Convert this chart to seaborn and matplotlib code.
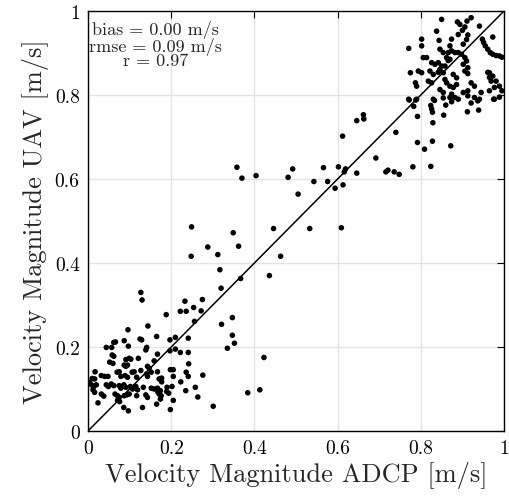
import matplotlib
matplotlib.use("Agg")
import matplotlib.pyplot as plt
import seaborn as sns
import pandas as pd

# ---- data (ADCP vs UAV velocity magnitude, m/s) ----
low_x = [0.127,0.130,0.233,0.254,0.222,0.236,0.188,0.256,0.144,0.096,0.165,0.125,0.129,0.062,0.066,
         0.087,0.197,0.210,0.044,0.057,0.097,0.141,0.139,0.197,0.210,0.222,0.167,0.058,0.062,0.099,
         0.091,0.103,0.121,0.159,0.052,0.060,0.242,0.087,0.091,0.095,0.143,0.147,0.198,0.205,0.017,
         0.070,0.075,0.106,0.111,0.127,0.167,0.236,0.032,0.040,0.048,0.079,0.089,0.095,0.141,0.143,
         0.117,0.205,0.010,0.016,0.171,0.177,0.008,0.014,0.020,0.044,0.049,0.056,0.062,0.075,0.079,
         0.086,0.091,0.102,0.107,0.115,0.119,0.133,0.152,0.159,0.167,0.190,0.202,0.258,0.016,0.032,
         0.038,0.065,0.071,0.075,0.087,0.093,0.099,0.117,0.143,0.139,0.171,0.176,0.189,0.194,0.205,
         0.165,0.024,0.071,0.076,0.086,0.097,0.131,0.198,0.241,0.241,0.152,0.241,0.177,0.223,0.168,
         0.174,0.235,0.174,0.004,0.012]
low_y = [0.330,0.312,0.309,0.294,0.285,0.285,0.277,0.261,0.250,0.241,0.225,0.219,0.217,0.211,0.212,
         0.215,0.217,0.223,0.199,0.199,0.202,0.199,0.193,0.191,0.195,0.187,0.183,0.181,0.178,0.173,
         0.170,0.171,0.173,0.167,0.164,0.161,0.160,0.157,0.154,0.157,0.154,0.149,0.146,0.146,0.141,
         0.140,0.141,0.140,0.141,0.144,0.141,0.140,0.132,0.130,0.130,0.130,0.132,0.128,0.136,0.130,
         0.128,0.130,0.125,0.124,0.124,0.126,0.110,0.106,0.110,0.110,0.106,0.112,0.108,0.108,0.102,
         0.110,0.104,0.106,0.100,0.106,0.098,0.104,0.102,0.100,0.102,0.104,0.106,0.104,0.092,0.088,
         0.083,0.088,0.084,0.080,0.084,0.086,0.088,0.084,0.080,0.086,0.088,0.084,0.094,0.090,0.073,
         0.064,0.067,0.073,0.070,0.056,0.048,0.056,0.051,0.221,0.187,0.140,0.130,0.117,0.117,0.093,
         0.096,0.096,0.076,0.116,0.098]

mid_x = [0.612,0.358,0.370,0.404,0.481,0.492,0.543,0.566,0.576,0.602,0.619,0.616,0.594,0.613,0.646,
         0.505,0.249,0.349,0.446,0.533,0.609,0.288,0.362,0.248,0.312,0.463,0.317,0.367,0.436,0.320,
         0.275,0.272,0.321,0.347,0.347,0.352,0.335,0.423,0.276,0.264,0.301,0.384,0.413]
mid_y = [0.702,0.628,0.602,0.608,0.604,0.624,0.594,0.627,0.594,0.629,0.624,0.617,0.578,0.586,0.614,
         0.564,0.486,0.472,0.482,0.482,0.484,0.438,0.440,0.416,0.420,0.416,0.384,0.363,0.370,0.340,
         0.313,0.286,0.254,0.270,0.228,0.209,0.197,0.175,0.133,0.081,0.059,0.091,0.098]

high_x = [0.772,0.788,0.783,0.792,0.740,0.792,0.809,0.828,0.829,0.824,0.826,0.828,0.833,0.855,0.860,
          0.646,0.662,0.663,0.692,0.716,0.721,0.736,0.748,0.781,0.824,0.872,0.912,0.939,0.921,0.975,
          0.850,0.888,0.894,0.921,0.911,0.838,0.906,0.900,0.890,0.913,0.941,0.874,0.802,0.844,0.973,
          0.771,0.802,0.870,0.910,0.902,0.948,0.951,0.955,0.961,0.967,0.973,0.981,0.989,0.995,0.846,
          0.854,0.866,0.874,0.882,0.862,0.870,0.890,0.898,0.806,0.814,0.826,0.834,0.842,0.850,0.846,
          0.854,0.906,0.910,0.902,0.913,0.906,0.775,0.794,0.802,0.822,0.830,0.878,0.886,0.965,0.973,
          0.969,0.787,0.790,0.818,0.826,0.858,0.862,0.870,0.878,0.886,0.921,0.929,0.945,0.981,0.989,
          0.995,0.902,0.913,0.846,0.854,0.965,0.771,0.790,0.830,0.854,0.870,0.874,0.941,0.977,0.989,
          0.858,0.866,0.842,0.913,0.961,0.965,0.977,0.882,0.890,0.913,0.929,0.874,0.937]
high_y = [0.788,0.788,0.773,0.749,0.711,0.687,0.671,0.690,0.734,0.775,0.767,0.759,0.787,0.752,0.776,
          0.739,0.753,0.743,0.650,0.617,0.621,0.617,0.611,0.629,0.630,0.679,0.760,0.764,0.781,0.790,
          0.980,0.974,0.968,0.984,0.976,0.952,0.962,0.954,0.944,0.943,0.964,0.933,0.933,0.930,0.938,
          0.911,0.917,0.917,0.932,0.921,0.933,0.925,0.917,0.909,0.901,0.897,0.894,0.893,0.890,0.909,
          0.901,0.901,0.905,0.901,0.889,0.885,0.901,0.897,0.889,0.889,0.877,0.873,0.877,0.869,0.861,
          0.853,0.889,0.881,0.873,0.865,0.857,0.853,0.857,0.853,0.857,0.849,0.849,0.841,0.853,0.845,
          0.833,0.829,0.821,0.833,0.829,0.837,0.829,0.821,0.818,0.825,0.829,0.821,0.806,0.833,0.821,
          0.810,0.806,0.810,0.813,0.806,0.810,0.790,0.790,0.790,0.793,0.794,0.802,0.790,0.790,0.795,
          0.869,0.882,0.854,0.851,0.854,0.842,0.818,0.794,0.790,0.798,0.794,0.784,0.786]

ticks = [0, 0.2, 0.4, 0.6, 0.8, 1]
tick_labels = ["0", "0.2", "0.4", "0.6", "0.8", "1"]
stats_text = "bias = 0.00 m/s\nrmse = 0.09 m/s\nr = 0.97"

df = pd.DataFrame({"adcp": low_x + mid_x + high_x, "uav": low_y + mid_y + high_y})

sns.set_style("white")
plt.rcParams["font.family"] = ["cmr10", "DejaVu Serif"]
plt.rcParams["axes.formatter.use_mathtext"] = True

fig = plt.figure(figsize=(5.09, 5.02), dpi=100)
ax = fig.add_axes([88/509, 1 - 432/502, 416/509, 420/502])

ax.grid(True, color="#e3e3e3", linewidth=1.0, zorder=0)
ax.set_axisbelow(True)
ax.plot([0, 1], [0, 1], color="black", linewidth=1.1, zorder=2)
sns.scatterplot(data=df, x="adcp", y="uav", ax=ax, color="black", s=16,
                edgecolor="none", linewidth=0, zorder=3)

ax.set_xlim(0, 1)
ax.set_ylim(0, 1)
ax.set_xticks(ticks)
ax.set_xticklabels(tick_labels)
ax.set_yticks(ticks)
ax.set_yticklabels(tick_labels)
ax.tick_params(direction="in", length=5, width=0.8, labelsize=14, colors="black",
               top=True, right=True, pad=6)
for sp in ax.spines.values():
    sp.set_color("black")
    sp.set_linewidth(1.0)

ax.set_xlabel("Velocity Magnitude ADCP [m/s]", fontsize=19, labelpad=3)
ax.set_ylabel("Velocity Magnitude UAV [m/s]", fontsize=19, labelpad=4)

ax.text(0.162, 0.978, stats_text, ha="center", va="top", multialignment="center",
        fontsize=13, linespacing=0.88, transform=ax.transData, zorder=4)

fig.savefig("out.png", dpi=100)
